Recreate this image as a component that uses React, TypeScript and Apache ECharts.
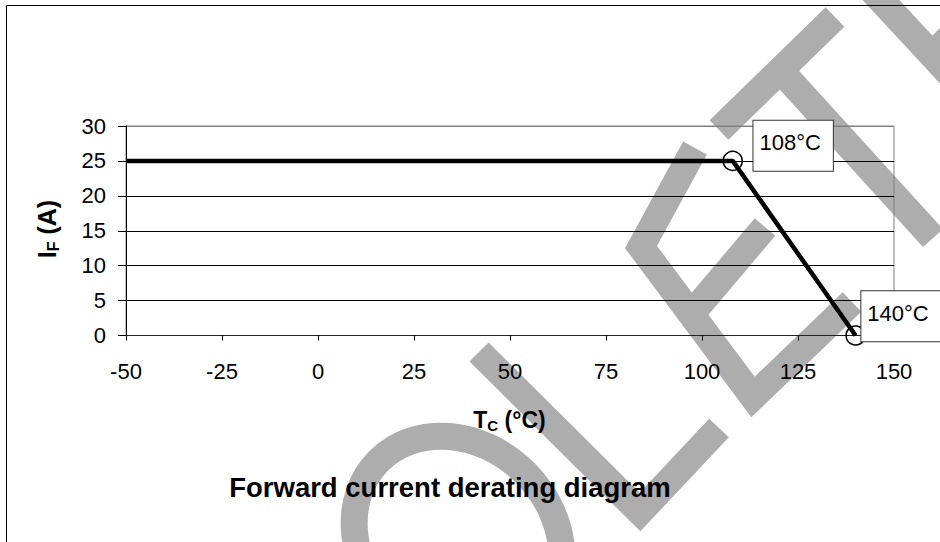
import React, { useEffect, useRef } from "react";
import * as echarts from "echarts";

// ---- data ----
const caseTempC = [-50, 108, 140];
const forwardCurrentA = [25, 25, 0];
const labeledPoint = [false, true, true];
const xMin = -50;
const xMax = 150;
const xStep = 25;
const yMin = 0;
const yMax = 30;
const yStep = 5;
const chartTitle = "Forward current derating diagram";

const FONT = "'Liberation Sans', Arial, sans-serif";
const WM = "#adadad";

function stripe(points: number[][]) {
  return {
    type: "polyline",
    z: -10,
    silent: true,
    shape: { points },
    style: { stroke: WM, lineWidth: 27, fill: null, lineJoin: "miter", lineCap: "butt" },
  };
}

export default function App() {
  const ref = useRef<HTMLDivElement>(null);
  useEffect(() => {
    const chart = echarts.init(ref.current!, null, { renderer: "svg" });
    const labelPos = [
      [0, 0],
      [31, -30],
      [16, -34],
    ];
    const seriesData = caseTempC.map((x, i) => ({
      value: [x, forwardCurrentA[i]],
      symbol: labeledPoint[i] ? "circle" : "none",
      label: { show: labeledPoint[i], position: labelPos[i] },
    }));

    const splitColors = [];
    for (let v = yMin; v <= yMax; v += yStep) {
      splitColors.push(v === yMin || v === yMax ? "#808080" : "#000000");
    }

    chart.setOption({
      animation: false,
      backgroundColor: "#ffffff",
      grid: {
        left: 126,
        right: 46,
        top: 126,
        bottom: 206.5,
        show: true,
        borderColor: "#808080",
        borderWidth: 1,
        backgroundColor: "transparent",
      },
      xAxis: {
        type: "value",
        min: xMin,
        max: xMax,
        interval: xStep,
        axisLine: { show: true, onZero: false, lineStyle: { color: "#222", width: 1 } },
        axisTick: { show: true, inside: false, length: 5, lineStyle: { color: "#000" } },
        axisLabel: { color: "#000", fontSize: 22, fontFamily: FONT, margin: 25 },
        splitLine: { show: false },
      },
      yAxis: {
        type: "value",
        min: yMin,
        max: yMax,
        interval: yStep,
        axisLine: { show: true, onZero: false, lineStyle: { color: "#000", width: 1 } },
        axisTick: { show: true, inside: false, length: 8, lineStyle: { color: "#000" } },
        axisLabel: { color: "#000", fontSize: 22, fontFamily: FONT, margin: 20 },
        splitLine: { show: true, lineStyle: { color: splitColors, width: 1 } },
      },
      series: [
        {
          type: "line",
          data: seriesData,
          clip: false,
          showSymbol: true,
          showAllSymbol: true,
          symbolSize: 19,
          lineStyle: { color: "#000", width: 4.5 },
          itemStyle: { color: "rgba(0,0,0,0)", borderColor: "#000", borderWidth: 1.5 },
          label: {
            show: false,
            formatter: (p: any) => `${p.value[0]}°C`,
            color: "#000",
            fontSize: 22,
            fontFamily: FONT,
            lineHeight: 24,
            backgroundColor: "#fff",
            borderColor: "#333",
            borderWidth: 1,
            padding: [10, 12, 16, 6],
          },
          z: 5,
        },
      ],
      graphic: {
        elements: [
          // watermark "OBSOLETE" fragments
          {
            type: "ellipse",
            z: -10,
            silent: true,
            x: 458,
            y: 540,
            rotation: Math.PI / 4,
            shape: { cx: 0, cy: 0, rx: 95, ry: 112 },
            style: { fill: null, stroke: WM, lineWidth: 27 },
          },
          stripe([
            [479, 352],
            [640, 512],
            [719, 428],
          ]),
          stripe([
            [695, 148],
            [641, 247],
            [753, 397],
            [852, 302],
          ]),
          stripe([
            [688, 318],
            [765, 227],
          ]),
          stripe([
            [719, 130],
            [835, 17],
          ]),
          stripe([
            [781, 71],
            [933, 238],
          ]),
          stripe([
            [868, -14],
            [985, 112],
          ]),
          stripe([
            [925, 62],
            [990, -3],
          ]),
          // outer frame
          {
            type: "rect",
            z: 100,
            silent: true,
            shape: { x: 6.5, y: 5.5, width: 1000, height: 1000 },
            style: { fill: null, stroke: "#000", lineWidth: 1 },
          },
          // axis titles
          {
            type: "text",
            z: 50,
            x: 47,
            y: 229,
            rotation: Math.PI / 2,
            style: {
              text: "{m|I}{s|F}{m| (A)}",
              align: "center",
              verticalAlign: "middle",
              rich: {
                m: { fontSize: 25, fontWeight: "bold", fontFamily: FONT, fill: "#000", lineHeight: 28 },
                s: { fontSize: 16, fontWeight: "bold", fontFamily: FONT, fill: "#000", lineHeight: 19, verticalAlign: "bottom" },
              },
            },
          },
          {
            type: "text",
            z: 50,
            x: 509.5,
            y: 420,
            style: {
              text: "{m|T}{s|C}{m| (°C)}",
              align: "center",
              verticalAlign: "middle",
              rich: {
                m: { fontSize: 23, fontWeight: "bold", fontFamily: FONT, fill: "#000", lineHeight: 26 },
                s: { fontSize: 15, fontWeight: "bold", fontFamily: FONT, fill: "#000", lineHeight: 18, verticalAlign: "bottom" },
              },
            },
          },
          {
            type: "text",
            z: 50,
            x: 450,
            y: 487,
            style: {
              text: chartTitle,
              align: "center",
              verticalAlign: "middle",
              fontSize: 27.5,
              fontWeight: "bold",
              fontFamily: FONT,
              fill: "#000",
            },
          },
        ],
      },
    });
    return () => chart.dispose();
  }, []);
  return (
    <div
      ref={ref}
      style={{ position: "absolute", left: 0, top: 0, width: 940, height: 542 }}
    />
  );
}
